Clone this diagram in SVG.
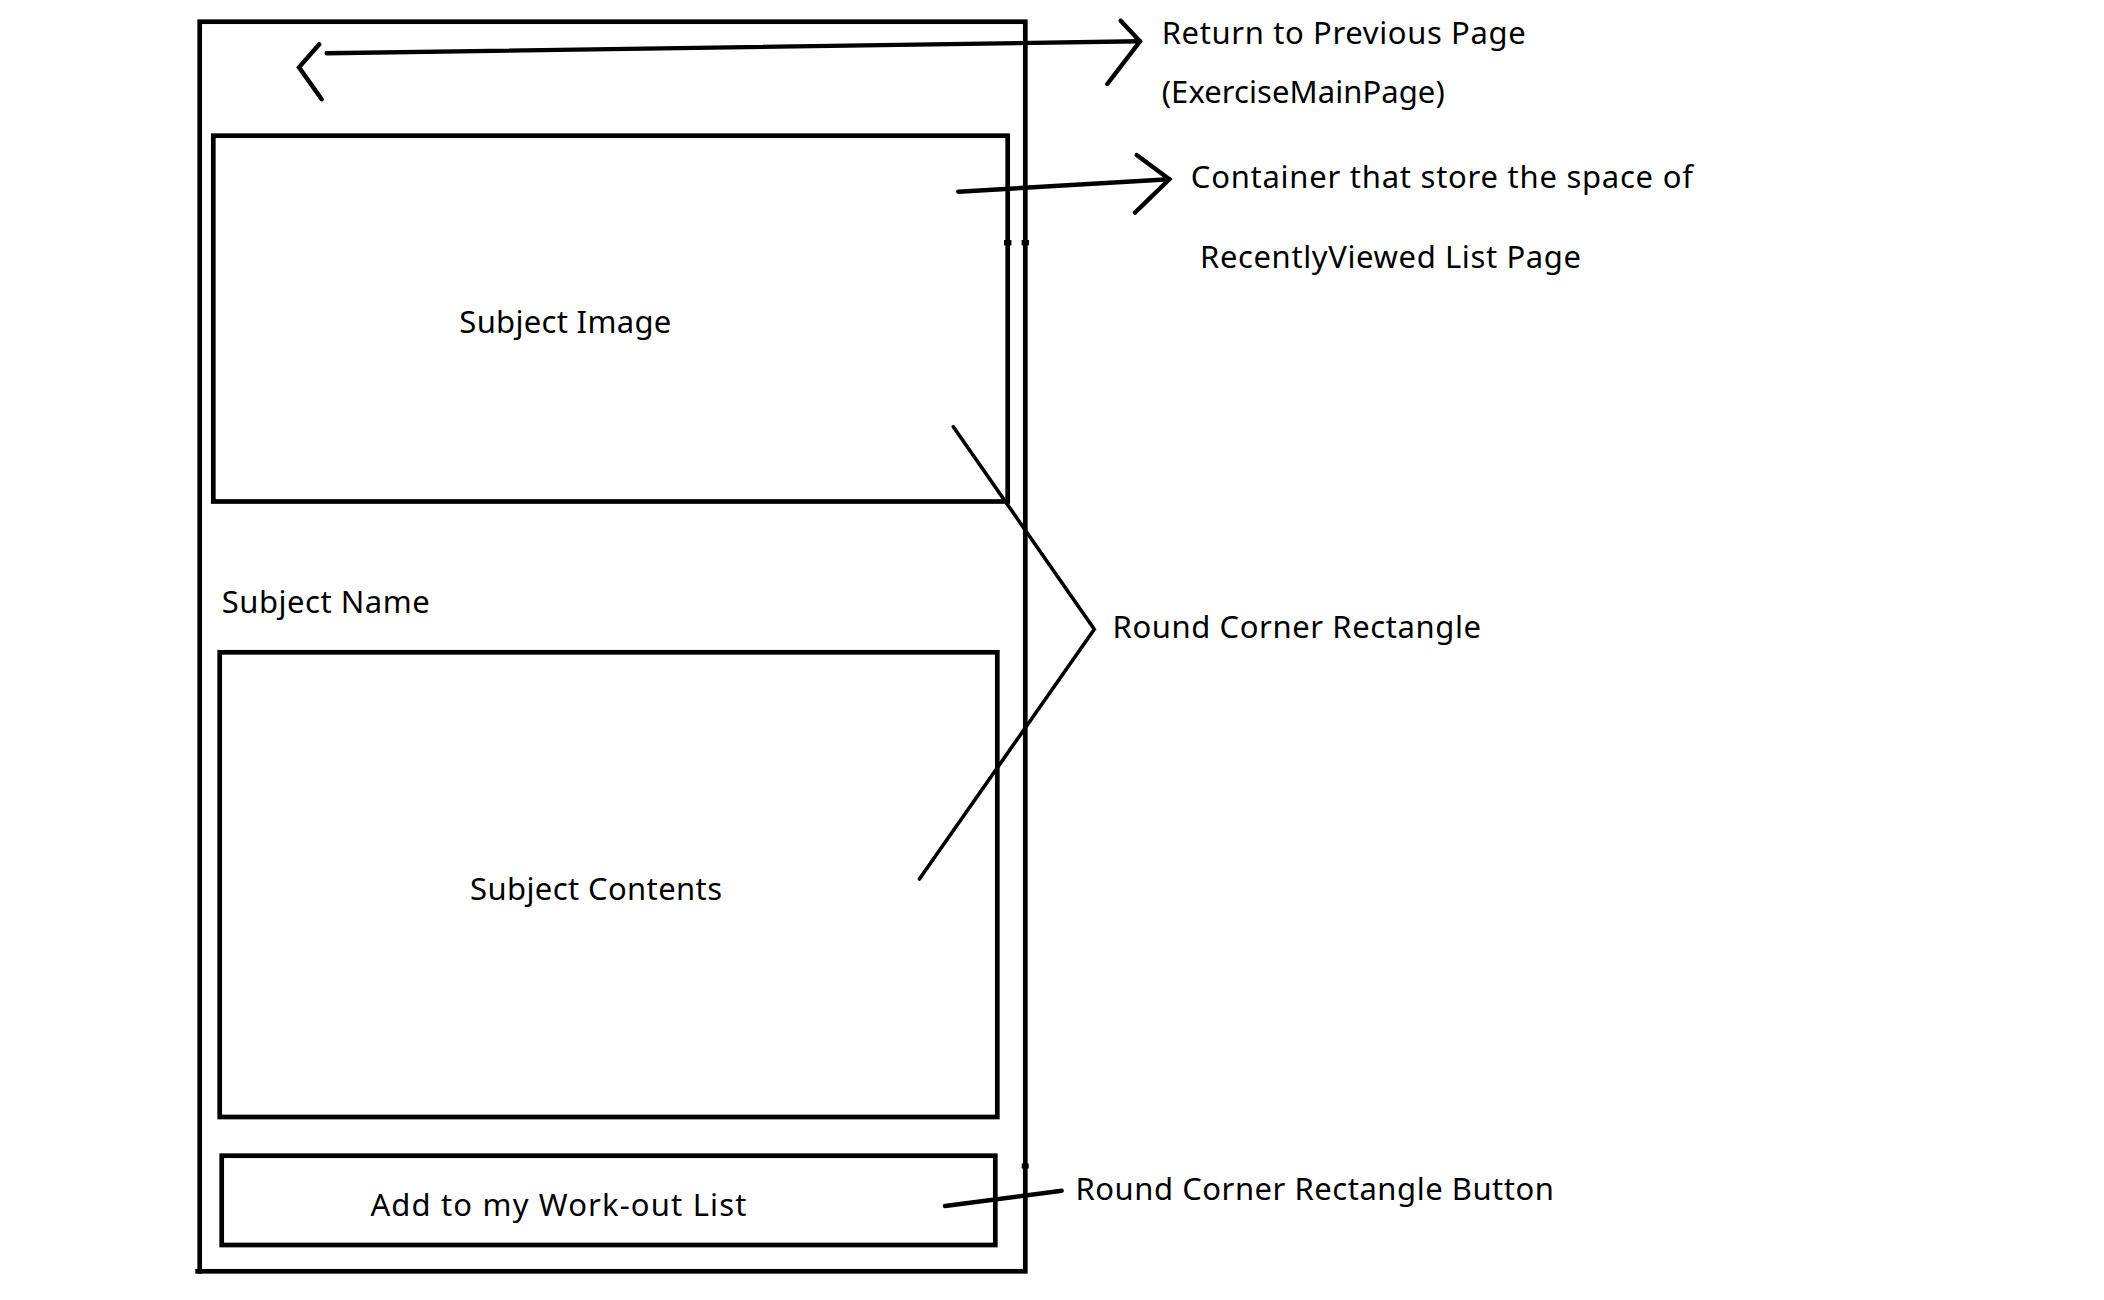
<svg xmlns="http://www.w3.org/2000/svg" width="2104" height="1300" viewBox="0 0 2104 1300">
<style>
.box{fill:none;stroke:#000;stroke-width:4.7}
.ln{fill:none;stroke:#000;stroke-width:4.4;stroke-linecap:round;stroke-linejoin:miter}
.thin{fill:none;stroke:#000;stroke-width:3.6;stroke-linecap:round;stroke-linejoin:miter}
text{font-family:"Noto Sans","Open Sans","Liberation Sans",sans-serif;font-size:31px;fill:#000}
</style>
<rect width="2104" height="1300" fill="#fff"/>
<g id="phone">
<rect class="box" x="199.7" y="21.7" width="825.6" height="1249.6"/>
<line class="box" x1="195.3" y1="1271.3" x2="202" y2="1271.3"/>
<rect x="1021.7" y="1163.5" width="7" height="5" fill="#000"/>
</g>
<g id="subject-image">
<rect class="box" x="213.3" y="135.7" width="794.4" height="365.8"/>
<text x="459.3" y="332.7" textLength="212" lengthAdjust="spacing">Subject Image</text>
</g>
<g id="subject-name">
<text x="221.7" y="612.6" textLength="208" lengthAdjust="spacing">Subject Name</text>
</g>
<g id="subject-contents">
<rect class="box" x="219.7" y="652.3" width="777.6" height="464.7"/>
<text x="470" y="900" textLength="252" lengthAdjust="spacing">Subject Contents</text>
</g>
<g id="add-button">
<rect class="box" x="221.7" y="1155.7" width="773.6" height="89.3"/>
<text x="370.4" y="1216" textLength="376" lengthAdjust="spacing">Add to my Work-out List</text>
</g>
<g id="marks">
<rect x="1004" y="240" width="7.4" height="5.4" fill="#000"/>
<rect x="1021.6" y="240" width="7.4" height="5.4" fill="#000"/>
</g>
<g id="labels">
<text x="1161.7" y="44.3" textLength="364" lengthAdjust="spacing">Return to Previous Page</text>
<text x="1161.7" y="103.3" textLength="283" lengthAdjust="spacing">(ExerciseMainPage)</text>
<text x="1190.8" y="188.3" textLength="502" lengthAdjust="spacing">Container that store the space of</text>
<text x="1200" y="268.3" textLength="381" lengthAdjust="spacing">RecentlyViewed List Page</text>
<text x="1112.5" y="638.4" textLength="368.5" lengthAdjust="spacing">Round Corner Rectangle</text>
<text x="1075.5" y="1200" textLength="478.5" lengthAdjust="spacing">Round Corner Rectangle Button</text>
</g>
<g id="connectors">
<polyline class="ln" points="319.3,44.3 299,67.3 321.7,99.3"/>
<polyline class="ln" points="326.7,53.3 1140,41.3"/>
<polyline class="ln" points="1120.7,20.7 1140,41.3 1107.3,84"/>
<polyline class="ln" points="958.3,191.7 1169.3,179.3"/>
<polyline class="ln" points="1136.7,155 1169.3,179.3 1135,212.7"/>
<polyline class="thin" points="953.3,426.7 1094.3,629.3 919.4,879"/>
<polyline class="ln" points="945,1206 1061.7,1190.7"/>
</g>
</svg>
